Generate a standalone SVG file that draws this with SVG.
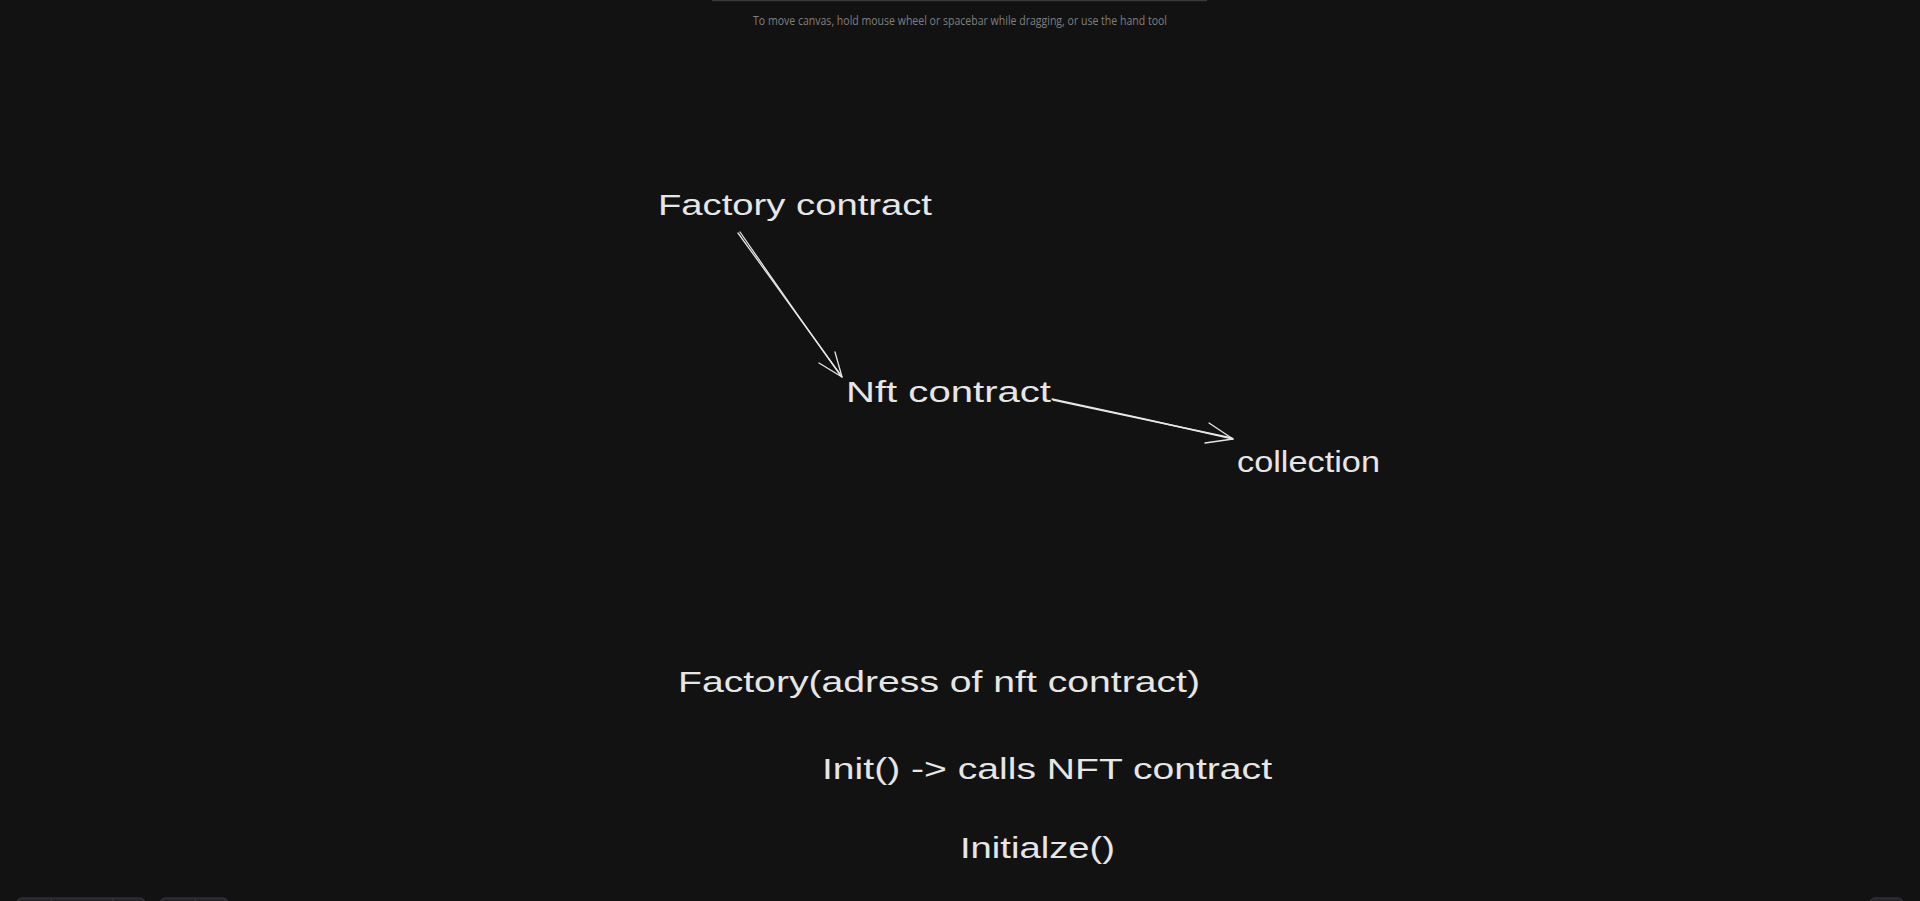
<svg xmlns="http://www.w3.org/2000/svg" width="1920" height="901" viewBox="0 0 1920 901">
<style>
.bg{fill:#121212}
.lbl{font-family:"Liberation Sans",Arial,sans-serif;font-size:29px;fill:#e6e6e6}
.hint{font-family:"Open Sans","Liberation Sans",sans-serif;font-size:12px;fill:#7f7f7f}
.edge{fill:none;stroke:#e6e6e6;stroke-width:1.3;stroke-linecap:round;stroke-linejoin:round}
.ui{fill:#232329;stroke:#3a3a40;stroke-width:1}
</style>
<rect class="bg" x="0" y="0" width="1920" height="901"/>
<line x1="712" y1="0.5" x2="1207" y2="0.5" stroke="#3a3a3a" stroke-width="1.5"/>
<text class="hint" x="960" y="25" text-anchor="middle" textLength="414" lengthAdjust="spacingAndGlyphs">To move canvas, hold mouse wheel or spacebar while dragging, or use the hand tool</text>

<g id="node-factory"><text class="lbl" x="658" y="215" textLength="274" lengthAdjust="spacingAndGlyphs">Factory contract</text></g>
<g id="node-nft"><text class="lbl" x="846" y="402" textLength="205" lengthAdjust="spacingAndGlyphs">Nft contract</text></g>
<g id="node-collection"><text class="lbl" x="1237" y="472" textLength="143" lengthAdjust="spacingAndGlyphs">collection</text></g>
<g id="note-factory"><text class="lbl" x="678" y="692" textLength="522" lengthAdjust="spacingAndGlyphs">Factory(adress of nft contract)</text></g>
<g id="note-init"><text class="lbl" x="822" y="779" textLength="450" lengthAdjust="spacingAndGlyphs">Init() -&gt; calls NFT contract</text></g>
<g id="note-initialize"><text class="lbl" x="960" y="858" textLength="155" lengthAdjust="spacingAndGlyphs">Initialze()</text></g>

<g id="connectors">
<path class="edge" d="M738 233 Q790 305 842 377"/>
<path class="edge" d="M740 232 Q791 306 841 376"/>
<path class="edge" d="M819 363 L842 377 L835 352"/>
<path class="edge" d="M1052 399 Q1142 418 1233 439"/>
<path class="edge" d="M1053 400 Q1143 419 1232 438"/>
<path class="edge" d="M1209 423 L1233 439 L1205 443"/>
</g>

<g id="ui">
<rect class="ui" x="17" y="898" width="128" height="12" rx="5"/>
<line x1="51" y1="898" x2="51" y2="901" stroke="#3a3a40"/>
<line x1="113" y1="898" x2="113" y2="901" stroke="#3a3a40"/>
<rect class="ui" x="160" y="898" width="68" height="12" rx="5"/>
<line x1="195" y1="898" x2="195" y2="901" stroke="#3a3a40"/>
<rect class="ui" x="1870" y="898" width="33" height="12" rx="5"/>
</g>
</svg>
